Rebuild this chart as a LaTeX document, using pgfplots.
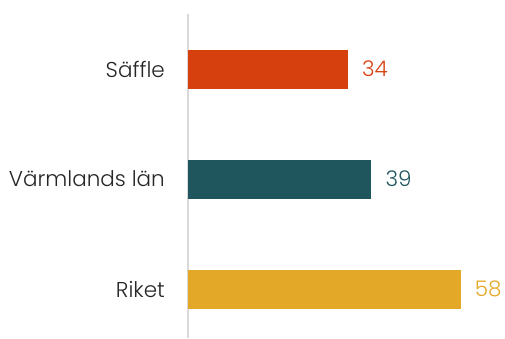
\documentclass[border=0pt]{standalone}
\usepackage{pgfplots}
\pgfplotsset{compat=1.18}
\usepackage{fontspec}
\setmainfont{Poppins Light}
\definecolor{cA}{HTML}{D6400E}
\definecolor{cB}{HTML}{1F565E}
\definecolor{cC}{HTML}{E3A828}
\begin{document}
\begin{tikzpicture}
\useasboundingbox (-188pt,0pt) rectangle (317pt,338pt);
\begin{axis}[
  at={(0pt,0pt)}, anchor=south west,
  scale only axis, width=300pt, height=324pt,
  xbar, bar width=39pt, bar shift=0pt,
  xmin=0, xmax=63.8, ymin=-0.5, ymax=2.445, y dir=reverse,
  hide x axis,
  axis y line=left,
  y axis line style={-, draw=black!15, line width=1.5pt},
  ytick={0,1,2}, yticklabels={Säffle,Värmlands län,Riket},
  major tick length=0pt, ytick style={draw=none},
  yticklabel style={font=\fontsize{21.5}{26}\selectfont, text=black!85, inner sep=0pt, xshift=-23pt},
  /pgf/number format/assume math mode=true,
  nodes near coords,
  nodes near coords style={font=\fontsize{21.5}{26}\selectfont, anchor=west, inner sep=0pt, xshift=14pt},
  clip=false,
]
\addplot[fill=cA, draw=none, every node near coord/.append style={text=cA}] coordinates {(34,0)};
\addplot[fill=cB, draw=none, every node near coord/.append style={text=cB}] coordinates {(39,1)};
\addplot[fill=cC, draw=none, every node near coord/.append style={text=cC}] coordinates {(58,2)};
\end{axis}
\end{tikzpicture}
\end{document}
